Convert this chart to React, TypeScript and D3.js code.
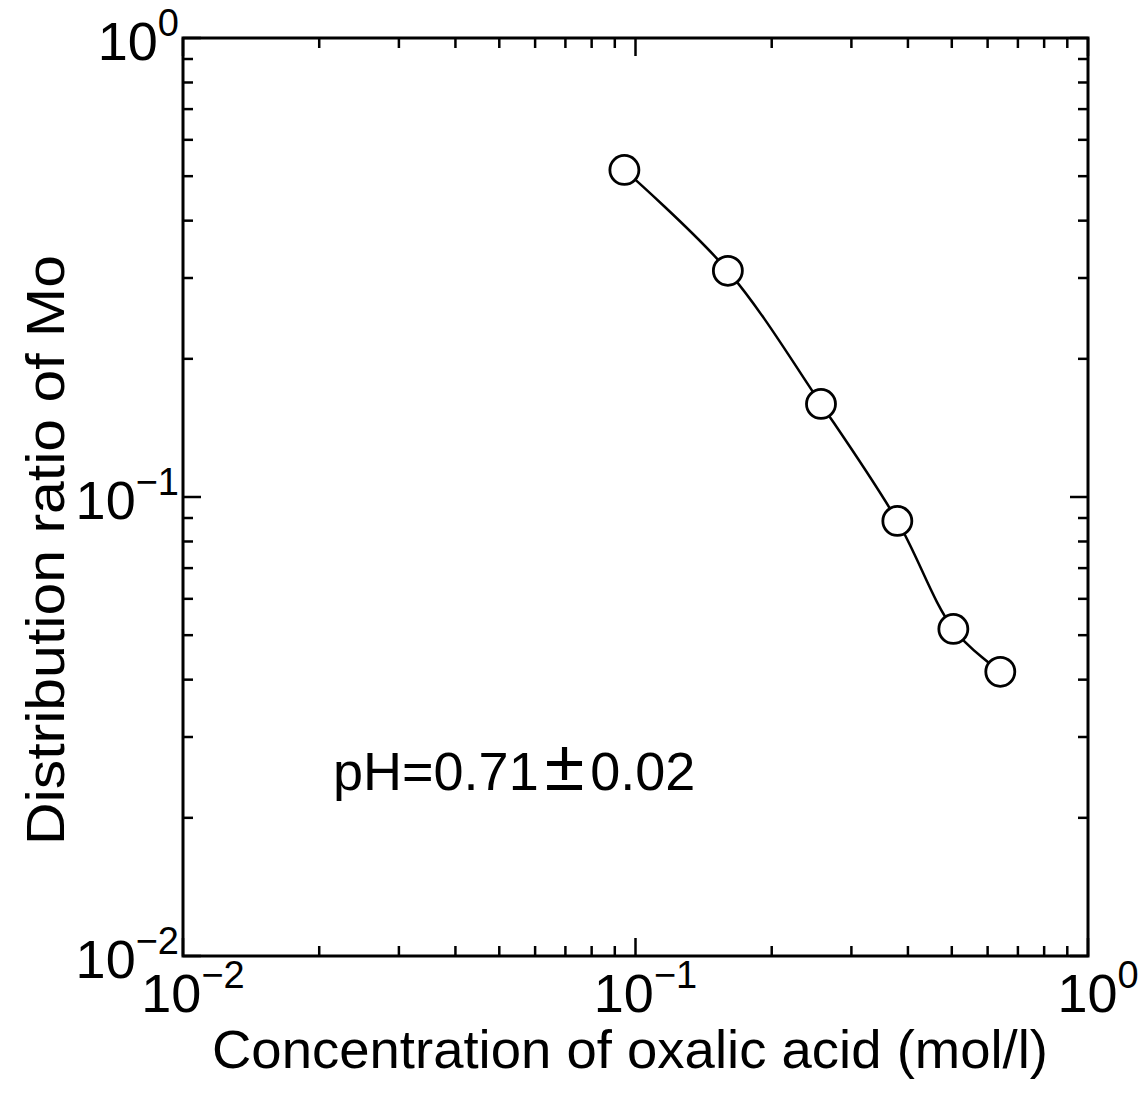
import React from "react";
import * as d3 from "d3";

const concentration = [0.0945, 0.16, 0.257, 0.379, 0.504, 0.64];
const distributionRatio = [0.516, 0.311, 0.1595, 0.0887, 0.0516, 0.0416];
const majorTicks = [0.01, 0.1, 1];
const majorExp = ["−2", "−1", "0"];
const xTitle = "Concentration of oxalic acid (mol/l)";
const yTitle = "Distribution ratio of Mo";
const annoLeft = "pH=0.71";
const annoPm = "\u00B1";
const annoRight = "0.02";

const W = 1138, H = 1099;
const left = 183, right = 1088, top = 38, bottom = 956;

export default function App() {
  const x = d3.scaleLog().domain([0.01, 1]).range([left, right]);
  const y = d3.scaleLog().domain([0.01, 1]).range([bottom, top]);
  const minor: number[] = [];
  [0.01, 0.1].forEach((d) => {
    for (let k = 2; k <= 9; k++) minor.push(d * k);
  });
  const pts = concentration.map((c, i) => [x(c), y(distributionRatio[i])] as [number, number]);
  const line = d3.line().curve(d3.curveCatmullRom.alpha(0.5))(pts) || "";
  const majLen = 18, minLen = 10;
  const font = "Liberation Sans, Arial, Helvetica, sans-serif";
  return (
    <svg width={W} height={H} style={{ position: "absolute", left: 0, top: 0, background: "#fff" }} fontFamily={font}>
      <rect x={0} y={0} width={W} height={H} fill="#fff" />
      <g stroke="#000" strokeWidth={2.5}>
        {majorTicks.map((t, i) => (
          <g key={"M" + i}>
            <line x1={x(t)} x2={x(t)} y1={bottom} y2={bottom - majLen} />
            <line x1={x(t)} x2={x(t)} y1={top} y2={top + majLen} />
            <line x1={left} x2={left + majLen} y1={y(t)} y2={y(t)} />
            <line x1={right} x2={right - majLen} y1={y(t)} y2={y(t)} />
          </g>
        ))}
        {minor.map((t, i) => (
          <g key={"m" + i}>
            <line x1={x(t)} x2={x(t)} y1={bottom} y2={bottom - minLen} />
            <line x1={x(t)} x2={x(t)} y1={top} y2={top + minLen} />
            <line x1={left} x2={left + minLen} y1={y(t)} y2={y(t)} />
            <line x1={right} x2={right - minLen} y1={y(t)} y2={y(t)} />
          </g>
        ))}
      </g>
      <rect x={left} y={top} width={right - left} height={bottom - top} fill="none" stroke="#000" strokeWidth={3} />
      {majorTicks.map((t, i) => (
        <text key={"yl" + i} x={left - 4} y={y(t) + 22} textAnchor="end" fontSize={54} fill="#000">
          10<tspan fontSize={38} dy={-24}>{majorExp[i]}</tspan>
        </text>
      ))}
      {majorTicks.map((t, i) => (
        <text key={"xl" + i} x={x(t) + 10} y={bottom + 56} textAnchor="middle" fontSize={54} fill="#000">
          10<tspan fontSize={38} dy={-24}>{majorExp[i]}</tspan>
        </text>
      ))}
      <text x={630} y={1068} textAnchor="middle" fontSize={54} textLength={836} lengthAdjust="spacingAndGlyphs" fill="#000">{xTitle}</text>
      <text transform={`translate(64,550) rotate(-90)`} textAnchor="middle" fontSize={54} textLength={590} lengthAdjust="spacingAndGlyphs" fill="#000">{yTitle}</text>
      <text x={333} y={790} fontSize={54} fill="#000">
        {annoLeft}
        <tspan fontSize={72} dx={6}>{annoPm}</tspan>
        <tspan dx={6}>{annoRight}</tspan>
      </text>
      <path d={line} fill="none" stroke="#000" strokeWidth={2.5} />
      {pts.map((p, i) => (
        <circle key={i} cx={p[0]} cy={p[1]} r={14.5} fill="#fff" stroke="#000" strokeWidth={2.8} />
      ))}
    </svg>
  );
}
